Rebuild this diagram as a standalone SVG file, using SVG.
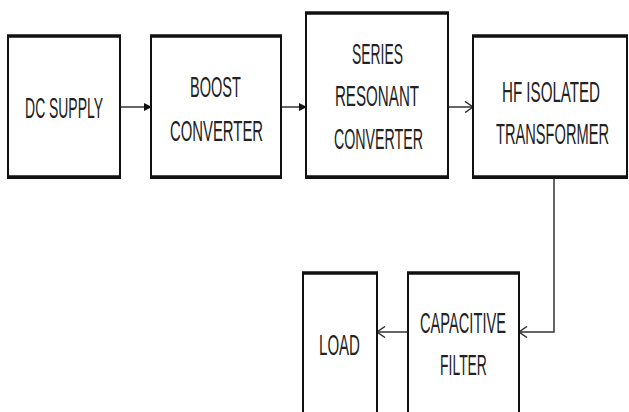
<svg xmlns="http://www.w3.org/2000/svg" width="629" height="412" viewBox="0 0 629 412">
<defs>
<marker id="fill" markerWidth="8" markerHeight="8" refX="7" refY="4" orient="auto" markerUnits="userSpaceOnUse">
<path d="M0,0 L8,4 L0,8 Z" fill="#111"/>
</marker>
<marker id="open" markerWidth="10" markerHeight="12" refX="9" refY="6" orient="auto" markerUnits="userSpaceOnUse">
<path d="M1,0.5 L9,6 L1,11.5" fill="none" stroke="#333" stroke-width="1.5"/>
</marker>
</defs>
<style>
.box{fill:#fff;stroke:#111;stroke-width:2}
.edge{stroke:#111;stroke-width:3.5;fill:none}
.lbl{font-family:"Liberation Sans",Arial,sans-serif;font-size:30px;fill:#222;text-anchor:middle}
.con{stroke:#333;stroke-width:1.5;fill:none}
</style>
<rect width="629" height="412" fill="#fff"/>
<g id="connectors">
<line class="con" x1="120" y1="107" x2="151" y2="107" marker-end="url(#fill)"/>
<line class="con" x1="281" y1="107" x2="306" y2="107" marker-end="url(#fill)"/>
<line class="con" x1="448" y1="107" x2="473" y2="107" marker-end="url(#open)"/>
<polyline class="con" points="554,178 554,332 519,332" marker-end="url(#open)"/>
<line class="con" x1="408" y1="332" x2="377" y2="332" marker-end="url(#open)"/>
</g>
<g id="dc-supply">
<rect class="box" x="8" y="36" width="112" height="142"/>
<path class="edge" d="M7,36H121M7,177H121"/>
<text class="lbl" transform="translate(64,118) scale(0.45,1)" textLength="173" lengthAdjust="spacingAndGlyphs">DC SUPPLY</text>
</g>
<g id="boost-converter">
<rect class="box" x="151" y="36" width="130" height="142"/>
<path class="edge" d="M150,36H282M150,177H282"/>
<text class="lbl" transform="translate(215.5,97) scale(0.45,1)" textLength="113" lengthAdjust="spacingAndGlyphs">BOOST</text>
<text class="lbl" transform="translate(216.5,141) scale(0.45,1)" textLength="207" lengthAdjust="spacingAndGlyphs">CONVERTER</text>
</g>
<g id="series-resonant-converter">
<rect class="box" x="306" y="13" width="142" height="165"/>
<path class="edge" d="M305,13H449M305,177H449"/>
<text class="lbl" transform="translate(377.5,64) scale(0.45,1)" textLength="113" lengthAdjust="spacingAndGlyphs">SERIES</text>
<text class="lbl" transform="translate(377,106) scale(0.45,1)" textLength="187" lengthAdjust="spacingAndGlyphs">RESONANT</text>
<text class="lbl" transform="translate(378.5,149) scale(0.45,1)" textLength="198" lengthAdjust="spacingAndGlyphs">CONVERTER</text>
</g>
<g id="hf-transformer">
<rect class="box" x="473" y="36" width="154" height="142"/>
<path class="edge" d="M472,36H628M472,177H628"/>
<text class="lbl" transform="translate(551,102) scale(0.45,1)" textLength="218" lengthAdjust="spacingAndGlyphs">HF ISOLATED</text>
<text class="lbl" transform="translate(552.5,144) scale(0.45,1)" textLength="251" lengthAdjust="spacingAndGlyphs">TRANSFORMER</text>
</g>
<g id="capacitive-filter">
<rect class="box" x="408" y="273" width="111" height="140"/>
<path class="edge" d="M407,273H520"/>
<text class="lbl" transform="translate(463,333) scale(0.45,1)" textLength="191" lengthAdjust="spacingAndGlyphs">CAPACITIVE</text>
<text class="lbl" transform="translate(463.5,375) scale(0.45,1)" textLength="104" lengthAdjust="spacingAndGlyphs">FILTER</text>
</g>
<g id="load">
<rect class="box" x="303" y="273" width="74" height="140"/>
<path class="edge" d="M302,273H378"/>
<text class="lbl" transform="translate(339.5,355) scale(0.45,1)" textLength="91" lengthAdjust="spacingAndGlyphs">LOAD</text>
</g>
</svg>
